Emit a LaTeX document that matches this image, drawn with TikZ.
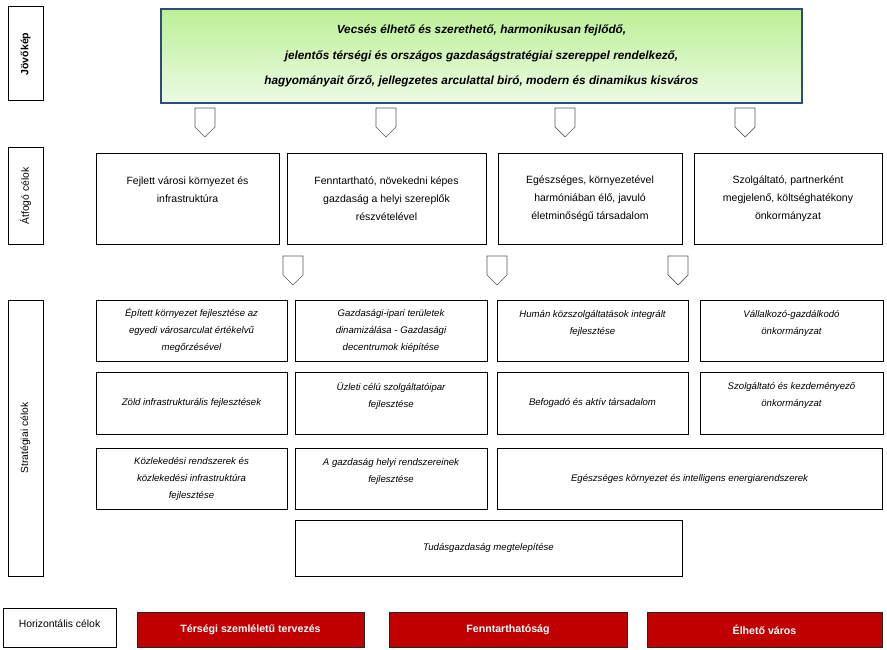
\documentclass[tikz,border=0pt]{standalone}
\usepackage{fontspec}
\setmainfont{Liberation Sans}

\definecolor{visionline}{RGB}{44,77,124}
\definecolor{visiontop}{RGB}{188,240,150}
\definecolor{visionbottom}{RGB}{236,250,228}
\definecolor{horizred}{RGB}{192,0,0}

\begin{document}
\begin{tikzpicture}[
            x = 1pt, y = -1pt, % one unit per pixel, y runs downwards
            line width = 0.8pt % line style
        ]

        \tikzstyle{side}=[
            draw = black,
            line width = 1pt,
            rotate = 90,
            minimum height = 35,
            inner sep = 0pt,
            font = \fontsize{10.3}{12}\selectfont
        ]
        \tikzstyle{goal}=[
            draw = black,
            fill = white,
            align = center,
            inner sep = 0pt,
            font = \fontsize{10.5}{18}\selectfont
        ]
        \tikzstyle{strat}=[
            goal,
            font = \fontsize{9.6}{17}\selectfont\itshape
        ]
        \tikzstyle{horiz}=[
            draw = black!85,
            fill = horizred,
            text = white,
            minimum height = 35,
            inner sep = 0pt,
            font = \fontsize{10.6}{12}\selectfont\bfseries
        ]
        \tikzstyle{chevron}=[
            draw = gray!70!black,
            fill = white,
            line width = 0.7pt
        ]

        \useasboundingbox (0,0) rectangle (887,650);

        % row labels
        \node[side, minimum width = 94, font = \fontsize{10.5}{12}\selectfont\bfseries] (J) at (25.5,54) {Jövőkép};
        \node[side, minimum width = 96] (A) at (25.5,196) {Átfogó célok};
        \node[side, minimum width = 276] (S) at (25.5,438) {Stratégiai célok};
        \node[draw = black, line width = 1pt, minimum width = 113, minimum height = 39, inner sep = 0pt,
              text depth = 7pt, font = \fontsize{10.4}{12}\selectfont] (H) at (59.5,627.5) {Horizontális célok};

        % vision
        \node[draw = visionline, line width = 1.8pt, top color = visiontop, bottom color = visionbottom,
              minimum width = 641, minimum height = 94, align = center, inner sep = 0pt,
              font = \fontsize{11.8}{25.5}\selectfont\bfseries\itshape] (V) at (481.5,56)
            {Vecsés élhető és szerethető, harmonikusan fejlődő,\\
             jelentős térségi és országos gazdaságstratégiai szereppel rendelkező,\\
             hagyományait őrző, jellegzetes arculattal biró, modern és dinamikus kisváros};

        \foreach \x in {205,386,565,745}
            \draw[chevron] ({\x-10},108) -- ({\x+10},108) -- ({\x+10},127) -- (\x,137) -- ({\x-10},127) -- cycle;

        % overall goals
        \node[goal, minimum width = 183, minimum height = 91] (A1) at (187.5,198.5)
            {Fejlett városi környezet és\\infrastruktúra\\\mbox{}};
        \node[goal, minimum width = 199, minimum height = 91] (A2) at (386.5,198.5)
            {Fenntartható, növekedni képes\\gazdaság a helyi szereplők\\részvételével};
        \node[goal, minimum width = 184, minimum height = 91] (A3) at (590,198.5)
            {Egészséges, környezetével\\harmóniában élő, javuló\\életminőségű társadalom};
        \node[goal, minimum width = 188, minimum height = 91] (A4) at (788,198.5)
            {Szolgáltató, partnerként\\megjelenő, költséghatékony\\önkormányzat};

        \foreach \x in {293,497,678}
            \draw[chevron] ({\x-10},256) -- ({\x+10},256) -- ({\x+10},275) -- (\x,285) -- ({\x-10},275) -- cycle;

        % strategic goals
        \node[strat, minimum width = 191, minimum height = 61] (S11) at (191.5,330.5)
            {Épített környezet fejlesztése az\\egyedi városarculat értékelvű\\megőrzésével};
        \node[strat, minimum width = 192, minimum height = 61] (S12) at (391,330.5)
            {Gazdasági-ipari területek\\dinamizálása - Gazdasági\\decentrumok kiépítése};
        \node[strat, minimum width = 191, minimum height = 61] (S13) at (592.5,330.5)
            {Humán közszolgáltatások integrált\\fejlesztése\\\mbox{}};
        \node[strat, minimum width = 183, minimum height = 61] (S14) at (791.5,330.5)
            {Vállalkozó-gazdálkodó\\önkormányzat\\\mbox{}};

        \node[strat, minimum width = 191, minimum height = 62] (S21) at (191.5,403)
            {Zöld infrastrukturális fejlesztések};
        \node[strat, minimum width = 192, minimum height = 62] (S22) at (391,403)
            {Üzleti célú szolgáltatóipar\\fejlesztése\\\mbox{}};
        \node[strat, minimum width = 191, minimum height = 62] (S23) at (592.5,403)
            {Befogadó és aktív társadalom};
        \node[strat, minimum width = 183, minimum height = 62] (S24) at (791.5,403)
            {Szolgáltató és kezdeményező\\önkormányzat\\\mbox{}};

        \node[strat, minimum width = 191, minimum height = 61] (S31) at (191.5,478.5)
            {Közlekedési rendszerek és\\közlekedési infrastruktúra\\fejlesztése};
        \node[strat, minimum width = 192, minimum height = 61] (S32) at (391,478.5)
            {A gazdaság helyi rendszereinek\\fejlesztése\\\mbox{}};
        \node[strat, minimum width = 385, minimum height = 61] (S33) at (689.5,478.5)
            {Egészséges környezet és intelligens energiarendszerek};

        \node[strat, minimum width = 387, minimum height = 56] (S4) at (488.5,548)
            {Tudásgazdaság megtelepítése};

        % horizontal goals
        \node[horiz, minimum width = 227] (H1) at (250.5,629.5) {Térségi szemléletű tervezés};
        \node[horiz, minimum width = 238] (H2) at (508,629.5) {Fenntarthatóság};
        \node[horiz, minimum width = 235] (H3) at (764.5,629.5) {Élhető város};

    \end{tikzpicture}
\end{document}
